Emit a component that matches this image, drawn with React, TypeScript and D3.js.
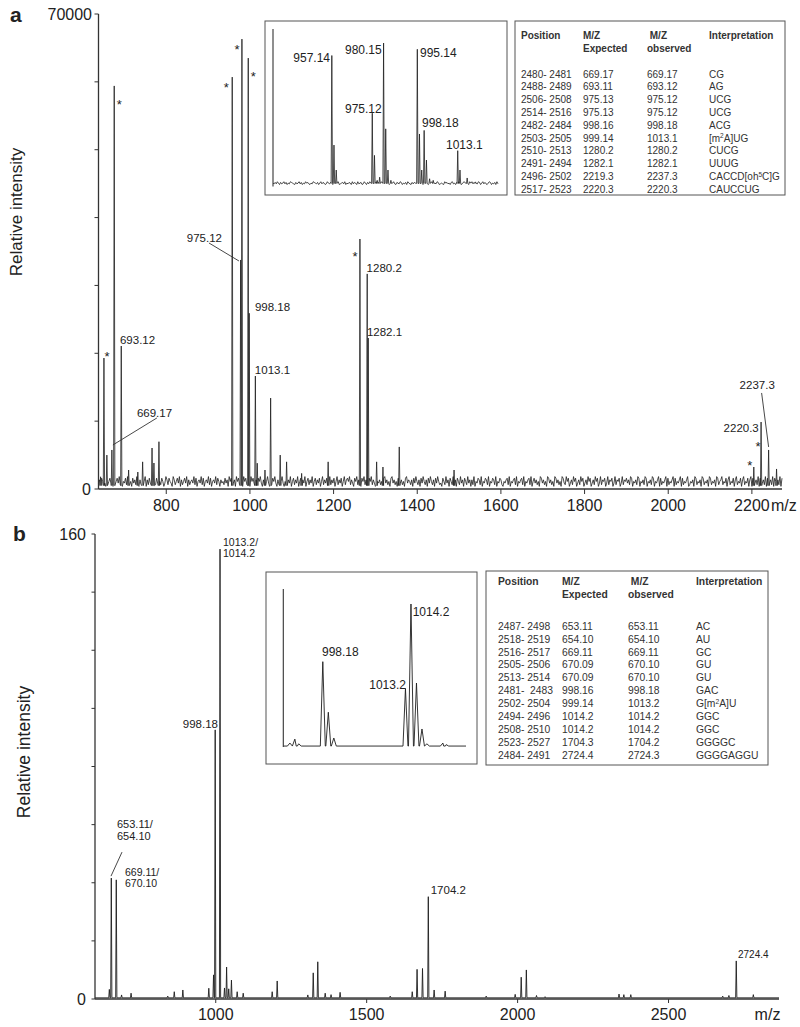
import * as d3 from 'd3';

const FONT = '"Liberation Sans", Arial, Helvetica, sans-serif';
const INK = '#222';

// ---------- panel a : main spectrum ----------
const A_DOMAIN: [number, number] = [638, 2272];
const A_X_TICKS = [800, 1000, 1200, 1400, 1600, 1800, 2000, 2200];
const A_Y_MAX = 70000;

// [m/z, intensity]
const PEAKS_A: [number, number][] = [
  [643, 1800], [651, 19300], [658, 5000], [670, 5750], [675.6, 59400], [692.4, 21070],
  [710, 2800], [732, 2500], [743.5, 4000], [766, 6040], [770.5, 3830], [782.5, 6970],
  [957.7, 60700], [977.8, 33750], [980.9, 66300], [996, 63500], [998.3, 25900],
  [1013, 16650], [1017.5, 3800], [1036, 2800], [1049.5, 13400], [1072.4, 5000],
  [1087.7, 4000], [1123.6, 2300], [1187, 4000], [1263, 36840], [1280.4, 31700],
  [1282.8, 22250], [1302.9, 4000], [1318, 3240], [1357, 6200], [1488, 2800],
  [2204.6, 3240], [2222, 9870], [2240, 5750], [2259, 2950],
];

// baseline noise, hand read in steps of ~240 counts
const NOISE_A_ROWS = [
  '352647315246371524637251436275',
  '241635274152634715263541726354',
  '264137526431752463715246371524',
  '537261453726145372614537264153',
  '426351746235174623517462351746',
  '315264731526473152647315264731',
  '462537146253714625371462537146',
  '253614725361472536147253614725',
  '647253164725316472531647253164',
  '352416735241673524167352416735',
  '425163742516374251637425163742',
  '316427351642735164273516427351',
  '527143652714365271436527143652',
  '143562714356271435627143562714',
  '635241763524176352417635241763',
  '274613527461352746135274613527',
  '461372546137254613725461372546',
  '352761435276143527614352761435',
  '716243571624357162435716243571',
  '243517624351762435176243517624',
  '572436157243615724361572436157',
  '164352716435271643527164352716',
];
const NOISE_A = NOISE_A_ROWS.join('').split('').map(Number);

// ---------- panel a : inset ----------
const IA_DOMAIN: [number, number] = [931, 1031];
const PEAKS_IA: [number, number][] = [
  [957.14, 83], [958.1, 25.6], [959.1, 9.6], [975.12, 46], [976.1, 19], [977.3, 3],
  [978.4, 5], [980.15, 91], [981.1, 36], [982.1, 9.6], [983.4, 3], [995.14, 87],
  [996.1, 32.7], [997.1, 9.6], [998.18, 35], [999.2, 16], [1000.6, 4], [1002.2, 3],
  [1013.1, 22], [1014.1, 9.6], [1017.3, 4.5], [1021, 2],
];
const NOISE_IA_ROWS = [
  '21314203124130214321031241',
  '30214231021432130241320142',
  '13204213401231402132041320',
  '41230142031421302413024130',
  '21403124103214302130421031',
  '32104213042130124302143012',
  '10423120341203142013421304',
  '24130214302413102430213041',
];
const NOISE_IA = NOISE_IA_ROWS.join('').split('').map(Number);

// ---------- panel a : table ----------
const TABLE_A: string[][] = [
  ['2480- 2481', '669.17', '669.17', 'CG'],
  ['2488- 2489', '693.11', '693.12', 'AG'],
  ['2506- 2508', '975.13', '975.12', 'UCG'],
  ['2514- 2516', '975.13', '975.12', 'UCG'],
  ['2482- 2484', '998.16', '998.18', 'ACG'],
  ['2503- 2505', '999.14', '1013.1', '[m^2A]UG'],
  ['2510- 2513', '1280.2', '1280.2', 'CUCG'],
  ['2491- 2494', '1282.1', '1282.1', 'UUUG'],
  ['2496- 2502', '2219.3', '2237.3', 'CACCD[oh^5C]G'],
  ['2517- 2523', '2220.3', '2220.3', 'CAUCCUG'],
];

// ---------- panel b : main spectrum ----------
const B_DOMAIN: [number, number] = [600, 2866];
const B_X_TICKS = [1000, 1500, 2000, 2500];
const B_Y_MAX = 160;
const PEAKS_B: [number, number][] = [
  [647.5, 3.3], [654, 41.6], [670.5, 41], [688, 1.4], [719.5, 2], [841, 1], [862.6, 2.5],
  [891, 3.1], [977, 3.7], [992.7, 8.3], [998.18, 92.6], [1014.2, 154.8], [1029, 3.8],
  [1036, 11], [1043, 3.5], [1052, 6.5], [1071, 2.5], [1091, 2], [1187, 2.5], [1203.6, 6.2],
  [1305, 1.4], [1323, 9], [1338, 12.8], [1362.6, 2], [1382, 1.5], [1412, 2.3], [1578, 1],
  [1651, 2.5], [1667, 10.2], [1685, 10.5], [1704.2, 35.2], [1723.5, 3.1], [1760, 2.7],
  [1896, 1], [1992, 1.6], [2012, 7.5], [2029, 10], [2062.6, 1.2], [2091, 0.8], [2336, 1.7],
  [2352, 1.5], [2375, 1.5], [2679.5, 1], [2700, 1.2], [2724.4, 13.1], [2781, 1.5],
];

// ---------- panel b : inset ----------
const IB_DOMAIN: [number, number] = [991, 1024.2];
const PEAKS_IB: [number, number][] = [
  [992.2, 2.5], [993.1, 5], [993.8, 2], [998.18, 54], [999.18, 22], [1000.18, 5.7],
  [1013.2, 37], [1014.2, 90.5], [1015.2, 40.5], [1016.2, 11.4], [1017.1, 2],
  [1020.0, 2.5], [1020.6, 1.5],
];

// ---------- panel b : table ----------
const TABLE_B: string[][] = [
  ['2487- 2498', '653.11', '653.11', 'AC'],
  ['2518- 2519', '654.10', '654.10', 'AU'],
  ['2516- 2517', '669.11', '669.11', 'GC'],
  ['2505- 2506', '670.09', '670.10', 'GU'],
  ['2513- 2514', '670.09', '670.10', 'GU'],
  ['2481-  2483', '998.16', '998.18', 'GAC'],
  ['2502- 2504', '999.14', '1013.2', 'G[m^2A]U'],
  ['2494- 2496', '1014.2', '1014.2', 'GGC'],
  ['2508- 2510', '1014.2', '1014.2', 'GGC'],
  ['2523- 2527', '1704.3', '1704.2', 'GGGGC'],
  ['2484- 2491', '2724.4', '2724.3', 'GGGGAGGU'],
];
const TABLE_HEAD = [['Position', ''], ['M/Z', 'Expected'], [' M/Z', 'observed'], ['Interpretation', '']];

// ---------- scales ----------
const xA = d3.scaleLinear().domain(A_DOMAIN).range([98.5, 782]);
const yA = d3.scaleLinear().domain([0, A_Y_MAX]).range([489, 14]);
const xIa = d3.scaleLinear().domain(IA_DOMAIN).range([273, 498]);
const yIa = d3.scaleLinear().domain([0, 100]).range([185, 29]);
const xB = d3.scaleLinear().domain(B_DOMAIN).range([95, 779]);
const yB = d3.scaleLinear().domain([0, B_Y_MAX]).range([999, 534]);
const xIb = d3.scaleLinear().domain(IB_DOMAIN).range([283.3, 466]);
const yIb = d3.scaleLinear().domain([0, 100]).range([747, 589]);

type Pt = [number, number];

function noiseSeries(levels: number[], domain: [number, number], unit: number, offset: number): Pt[] {
  const n = levels.length;
  return levels.map((d, i) => [domain[0] + (i * (domain[1] - domain[0])) / (n - 1), d * unit + offset]);
}

// merge baseline + spikes into one sorted trace
function trace(base: Pt[], peaks: Pt[], hw: number, foot: number): Pt[] {
  const pts: Pt[] = base.filter(([m]) => !peaks.some(([p]) => Math.abs(m - p) < hw + 0.1));
  peaks.forEach(([m, v]) => pts.push([m - hw, foot], [m, v], [m + hw, foot]));
  return pts.sort((a, b) => a[0] - b[0]);
}

const pathOf = (pts: Pt[], x: d3.ScaleLinear<number, number>, y: d3.ScaleLinear<number, number>) =>
  d3.line<Pt>().x(d => x(d[0])).y(d => y(d[1]))(pts) ?? '';

const traceA = trace(noiseSeries(NOISE_A, A_DOMAIN, 240, 150), PEAKS_A, 1.5, 500);
const traceIa = trace(noiseSeries(NOISE_IA, IA_DOMAIN, 0.45, 0.3), PEAKS_IA, 0.3, 1);
const traceB = trace([[B_DOMAIN[0], 0.4], [B_DOMAIN[1], 0.4]], PEAKS_B, 2, 0.4);
const traceIb = trace([[IB_DOMAIN[0], 0.6], [IB_DOMAIN[1], 0.6]], PEAKS_IB, 0.45, 0.6);

const peakTop = (peaks: Pt[], mz: number) => peaks.find(p => p[0] === mz)!;

// annotation layout: text offsets from a peak top (px)
type Ann = { t: string[]; mz: number; dx: number; dy: number; end?: boolean; lead?: [number, number, number, number]; fs: number; lh?: number };
const ANN_A: Ann[] = [
  { t: ['693.12'], mz: 692.4, dx: -1.3, dy: -2, fs: 11.5 },
  { t: ['669.17'], mz: 670, dx: 25, dy: -33, fs: 11.5, lead: [45, -32, 1, -5] },
  { t: ['975.12'], mz: 977.8, dx: -18.7, dy: -18, end: true, fs: 11.5, lead: [-31.7, -17, -1.7, 1] },
  { t: ['998.18'], mz: 998.3, dx: 5.7, dy: -2, fs: 11.5 },
  { t: ['1013.1'], mz: 1013, dx: -0.5, dy: -2, fs: 11.5 },
  { t: ['1280.2'], mz: 1280.4, dx: -0.6, dy: -2, fs: 11.5 },
  { t: ['1282.1'], mz: 1282.8, dx: -1.3, dy: -2, fs: 11.5 },
  { t: ['2237.3'], mz: 2240, dx: -29, dy: -61, fs: 11.5, lead: [-7, -57, 0, -3] },
  { t: ['2220.3'], mz: 2222, dx: -2.3, dy: 10, end: true, fs: 11.5 },
];
const STARS_A: [number, number, number][] = [
  [651, 3, -5], [675.6, 5, 16], [957.7, -6, 7], [980.9, -5, 7], [996, 5, 15],
  [1263, -5, 14], [2204.6, -4, -5], [2222, -3, 21],
];
const ANN_IA: Ann[] = [
  { t: ['957.14'], mz: 957.14, dx: -1.8, dy: 6.8, end: true, fs: 12 },
  { t: ['980.15'], mz: 980.15, dx: -1.9, dy: 11.3, end: true, fs: 12 },
  { t: ['995.14'], mz: 995.14, dx: 2.7, dy: 8, fs: 12 },
  { t: ['975.12'], mz: 975.12, dx: 9.4, dy: 0.1, end: true, fs: 12 },
  { t: ['998.18'], mz: 998.18, dx: -2.2, dy: -3, fs: 12 },
  { t: ['1013.1'], mz: 1013.1, dx: -11.7, dy: -1.4, fs: 12 },
];
const ANN_B: Ann[] = [
  { t: ['1013.2/', '1014.2'], mz: 1014.2, dx: 3, dy: -3, fs: 10.5, lh: 10.5 },
  { t: ['998.18'], mz: 998.18, dx: 2.8, dy: -2, end: true, fs: 11.5 },
  { t: ['653.11/', '654.10'], mz: 654, dx: 5.7, dy: -50, fs: 11, lh: 12 },
  { t: ['669.11/', '670.10'], mz: 670.5, dx: 8.7, dy: -3.5, fs: 10.5, lh: 10.5 },
  { t: ['1704.2'], mz: 1704.2, dx: 2.4, dy: -2.7, fs: 11.5 },
  { t: ['2724.4'], mz: 2724.4, dx: 1.7, dy: -3.3, fs: 10 },
];
ANN_B[2].lead = [10.7, -26, -0.3, -2];
const ANN_IB: Ann[] = [
  { t: ['998.18'], mz: 998.18, dx: -0.8, dy: -5.4, fs: 12 },
  { t: ['1013.2'], mz: 1013.2, dx: 0.5, dy: 0, end: true, fs: 12 },
  { t: ['1014.2'], mz: 1014.2, dx: 1.7, dy: 12, fs: 12 },
];

function Annotations({ anns, peaks, x, y }: { anns: Ann[]; peaks: Pt[]; x: d3.ScaleLinear<number, number>; y: d3.ScaleLinear<number, number> }) {
  return (
    <g>
      {anns.map((a, i) => {
        const [m, v] = peakTop(peaks, a.mz);
        const px = x(m), py = y(v);
        const lh = a.lh ?? a.fs;
        return (
          <g key={i}>
            {a.t.map((line, j) => (
              <text key={j} x={px + a.dx} y={py + a.dy + j * lh} fontSize={a.fs} fill={INK}
                textAnchor={a.end ? 'end' : 'start'}>{line}</text>
            ))}
            {a.lead && (
              <line x1={px + a.lead[0]} y1={py + a.lead[1]} x2={px + a.lead[2]} y2={py + a.lead[3]}
                stroke="#333" strokeWidth={0.9} />
            )}
          </g>
        );
      })}
    </g>
  );
}

function Interp({ s, fs }: { s: string; fs: number }) {
  const parts = s.split('^');
  if (parts.length === 1) return <>{s}</>;
  return (
    <>
      {parts[0]}
      <tspan dy={-fs * 0.35} fontSize={fs * 0.65}>{parts[1][0]}</tspan>
      <tspan dy={fs * 0.35}>{parts[1].slice(1)}</tspan>
    </>
  );
}

function Table({ box, cols, head, rowTop, rowStep, rows, fs }: {
  box: [number, number, number, number]; cols: number[]; head: number[];
  rowTop: number; rowStep: number; rows: string[][]; fs: number;
}) {
  const base = fs * 0.36;
  return (
    <g fontSize={fs} fill="#333">
      <rect x={box[0]} y={box[1]} width={box[2] - box[0]} height={box[3] - box[1]} fill="#fff" stroke="#555" strokeWidth={1} />
      {TABLE_HEAD.map((h, c) => h.map((t, r) => t && (
        <text key={`${c}-${r}`} x={cols[c]} y={head[r] + base} fontWeight={700} style={{ whiteSpace: 'pre' }}>{t}</text>
      )))}
      {rows.map((row, r) => row.map((cell, c) => (
        <text key={`${r}-${c}`} x={cols[c]} y={rowTop + r * rowStep + base} style={{ whiteSpace: 'pre' }}>
          {c === 3 ? <Interp s={cell} fs={fs} /> : cell}
        </text>
      )))}
    </g>
  );
}

export default function App() {
  const aTicks = yA.ticks(7);
  const bTicks = yB.ticks(8);
  return (
    <svg width={800} height={1027} style={{ position: 'absolute', left: 0, top: 0 }} fontFamily={FONT}>
      <rect width={800} height={1027} fill="#fff" />

      {/* ===== panel a ===== */}
      <text x={10} y={22} fontSize={21} fontWeight={700} fill={INK}>a</text>
      <text transform="translate(22,212) rotate(-90)" textAnchor="middle" fontSize={17} fill={INK}>Relative intensity</text>
      <path d={pathOf(traceA, xA, yA)} fill="none" stroke="#1e1e1e" strokeWidth={0.8} />
      <line x1={xA.range()[0]} x2={xA.range()[0]} y1={yA(0)} y2={yA(A_Y_MAX)} stroke="#333" strokeWidth={1.3} />
      <line x1={xA.range()[0]} x2={xA.range()[1]} y1={yA(0)} y2={yA(0)} stroke="#333" strokeWidth={1.3} />
      {aTicks.map(t => (
        <line key={t} x1={xA.range()[0] - 4} x2={xA.range()[0]} y1={yA(t)} y2={yA(t)} stroke="#333" strokeWidth={1} />
      ))}
      <text x={92} y={yA(A_Y_MAX) + 5.7} fontSize={16} textAnchor="end" fill={INK}>70000</text>
      <text x={91} y={yA(0) + 5.7} fontSize={16} textAnchor="end" fill={INK}>0</text>
      {A_X_TICKS.map(t => (
        <g key={t}>
          <line x1={xA(t)} x2={xA(t)} y1={yA(0)} y2={yA(0) + 5} stroke="#333" strokeWidth={1} />
          <text x={xA(t)} y={511} fontSize={16} textAnchor="middle" fill={INK}>{t}</text>
        </g>
      ))}
      <text x={771} y={511} fontSize={16} fill={INK}>m/z</text>
      <Annotations anns={ANN_A} peaks={PEAKS_A} x={xA} y={yA} />
      {STARS_A.map(([m, dx, dy], i) => {
        const [pm, v] = peakTop(PEAKS_A, m);
        return <text key={i} x={xA(pm) + dx} y={yA(v) + dy + 7.5} fontSize={13} textAnchor="middle" fill={INK}>*</text>;
      })}

      {/* inset a */}
      <rect x={265} y={21} width={242} height={174} fill="#fff" stroke="#555" strokeWidth={1} />
      <path d={pathOf(traceIa, xIa, yIa)} fill="none" stroke="#1e1e1e" strokeWidth={0.8} />
      <line x1={xIa.range()[0]} x2={xIa.range()[0]} y1={yIa(-1)} y2={yIa(100)} stroke="#333" strokeWidth={1.1} />
      <Annotations anns={ANN_IA} peaks={PEAKS_IA} x={xIa} y={yIa} />

      <Table box={[515, 21, 785, 195]} cols={[521, 583, 647, 709]} head={[35.7, 48]}
        rowTop={74} rowStep={12.8} rows={TABLE_A} fs={10} />

      {/* ===== panel b ===== */}
      <text x={13} y={541} fontSize={21} fontWeight={700} fill={INK}>b</text>
      <text transform="translate(30,752) rotate(-90)" textAnchor="middle" fontSize={17.5} fill={INK}>Relative intensity</text>
      <path d={pathOf(traceB, xB, yB)} fill="none" stroke="#1e1e1e" strokeWidth={0.9} />
      <line x1={xB.range()[0]} x2={xB.range()[0]} y1={yB(0)} y2={yB(B_Y_MAX)} stroke="#333" strokeWidth={1.3} />
      <line x1={xB.range()[0]} x2={xB.range()[1]} y1={yB(0)} y2={yB(0)} stroke="#333" strokeWidth={1.3} />
      {bTicks.map(t => (
        <line key={t} x1={xB.range()[0] - 3.5} x2={xB.range()[0]} y1={yB(t)} y2={yB(t)} stroke="#333" strokeWidth={1} />
      ))}
      <text x={86} y={yB(B_Y_MAX) + 5.7} fontSize={16} textAnchor="end" fill={INK}>160</text>
      <text x={86} y={yB(0) + 5.7} fontSize={16} textAnchor="end" fill={INK}>0</text>
      {B_X_TICKS.map(t => (
        <g key={t}>
          <line x1={xB(t)} x2={xB(t)} y1={yB(0)} y2={yB(0) + 4} stroke="#333" strokeWidth={1} />
          <text x={xB(t)} y={1019.5} fontSize={16} textAnchor="middle" fill={INK}>{t}</text>
        </g>
      ))}
      <text x={767.5} y={1019.5} fontSize={16} textAnchor="middle" fill={INK}>m/z</text>
      <Annotations anns={ANN_B} peaks={PEAKS_B} x={xB} y={yB} />

      {/* inset b */}
      <rect x={266} y={572} width={211} height={192} fill="#fff" stroke="#555" strokeWidth={1} />
      <path d={pathOf(traceIb, xIb, yIb)} fill="none" stroke="#1e1e1e" strokeWidth={0.9} />
      <line x1={xIb.range()[0]} x2={xIb.range()[0]} y1={yIb(0)} y2={yIb(100)} stroke="#333" strokeWidth={1.1} />
      <Annotations anns={ANN_IB} peaks={PEAKS_IB} x={xIb} y={yIb} />

      <Table box={[486, 571, 768, 765]} cols={[498, 562, 628, 696]} head={[581, 594]}
        rowTop={626} rowStep={12.9} rows={TABLE_B} fs={10.3} />
    </svg>
  );
}
